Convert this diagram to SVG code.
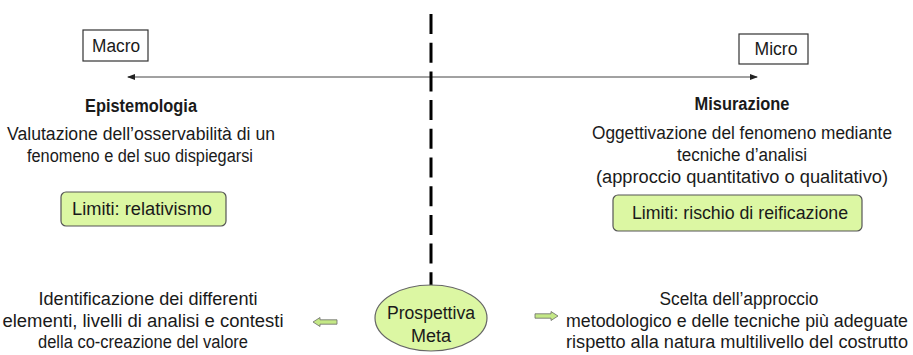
<svg xmlns="http://www.w3.org/2000/svg" width="913" height="355" viewBox="0 0 913 355">
  <defs>
    <style>
      .t { font-family: "Liberation Sans", Arial, sans-serif; font-size: 18px; fill: #1a1a1a; text-anchor: middle; }
      .b { font-weight: bold; }
      .box { fill: #ffffff; stroke: #333333; stroke-width: 1.2; }
      .lim { fill: #dcf7a3; stroke: #555555; stroke-width: 1.2; }
      .blk { fill: #c4e886; stroke: #6a6a6a; stroke-width: 0.8; }
    </style>
    <marker id="ah" markerWidth="8" markerHeight="6" refX="7" refY="3" orient="auto-start-reverse" markerUnits="userSpaceOnUse">
      <path d="M0,0 L8,3 L0,6 Z" fill="#222222"/>
    </marker>
  </defs>

  <!-- connectors: scale axis, divider, block arrows -->
  <g id="connectors">
    <line x1="128" y1="77" x2="757" y2="77" stroke="#444444" stroke-width="1" marker-start="url(#ah)" marker-end="url(#ah)"/>
    <line x1="431" y1="14" x2="431" y2="286" stroke="#000000" stroke-width="3" stroke-dasharray="20 8.7"/>
    <polygon class="blk" points="313,322 320,317.5 320,319.8 337,319.8 337,324.2 320,324.2 320,326.5"/>
    <polygon class="blk" points="558,316 551,311.5 551,313.8 535,313.8 535,318.2 551,318.2 551,320.5"/>
  </g>

  <g id="macro">
    <rect class="box" x="83" y="30" width="65" height="31"/>
    <text class="t" x="116" y="52" textLength="48" lengthAdjust="spacingAndGlyphs">Macro</text>
  </g>

  <g id="micro">
    <rect class="box" x="739" y="34" width="69" height="30"/>
    <text class="t" x="776" y="55" textLength="43" lengthAdjust="spacingAndGlyphs">Micro</text>
  </g>

  <g id="epistemologia">
    <text class="t b" x="141" y="112" textLength="112" lengthAdjust="spacingAndGlyphs">Epistemologia</text>
    <text class="t" x="141" y="140" textLength="268" lengthAdjust="spacingAndGlyphs">Valutazione dell’osservabilità di un</text>
    <text class="t" x="140" y="162" textLength="226" lengthAdjust="spacingAndGlyphs">fenomeno e del suo dispiegarsi</text>
  </g>

  <g id="limiti-relativismo">
    <rect class="lim" x="61" y="192" width="165" height="34" rx="5"/>
    <text class="t" x="142" y="215" textLength="140" lengthAdjust="spacingAndGlyphs">Limiti: relativismo</text>
  </g>

  <g id="misurazione">
    <text class="t b" x="742" y="110" textLength="95" lengthAdjust="spacingAndGlyphs">Misurazione</text>
    <text class="t" x="742" y="139" textLength="300" lengthAdjust="spacingAndGlyphs">Oggettivazione del fenomeno mediante</text>
    <text class="t" x="742" y="161" textLength="130" lengthAdjust="spacingAndGlyphs">tecniche d’analisi</text>
    <text class="t" x="742" y="183" textLength="292" lengthAdjust="spacingAndGlyphs">(approccio quantitativo o qualitativo)</text>
  </g>

  <g id="limiti-reificazione">
    <rect class="lim" x="613" y="195" width="249" height="36" rx="5"/>
    <text class="t" x="740" y="219" textLength="216" lengthAdjust="spacingAndGlyphs">Limiti: rischio di reificazione</text>
  </g>

  <g id="prospettiva-meta">
    <ellipse cx="431" cy="318" rx="56" ry="33" fill="#dcf7a3" stroke="#666666" stroke-width="1.2"/>
    <text class="t" x="431" y="319" textLength="88" lengthAdjust="spacingAndGlyphs">Prospettiva</text>
    <text class="t" x="431" y="342" textLength="40" lengthAdjust="spacingAndGlyphs">Meta</text>
  </g>

  <g id="contesti">
    <text class="t" x="148" y="305" textLength="219" lengthAdjust="spacingAndGlyphs">Identificazione dei differenti</text>
    <text class="t" x="143" y="327" textLength="281" lengthAdjust="spacingAndGlyphs">elementi, livelli di analisi e contesti</text>
    <text class="t" x="143" y="348" textLength="210" lengthAdjust="spacingAndGlyphs">della co-creazione del valore</text>
  </g>

  <g id="approccio">
    <text class="t" x="739" y="305" textLength="159" lengthAdjust="spacingAndGlyphs">Scelta dell’approccio</text>
    <text class="t" x="737" y="327" textLength="342" lengthAdjust="spacingAndGlyphs">metodologico e delle tecniche più adeguate</text>
    <text class="t" x="737" y="348" textLength="342" lengthAdjust="spacingAndGlyphs">rispetto alla natura multilivello del costrutto</text>
  </g>
</svg>
